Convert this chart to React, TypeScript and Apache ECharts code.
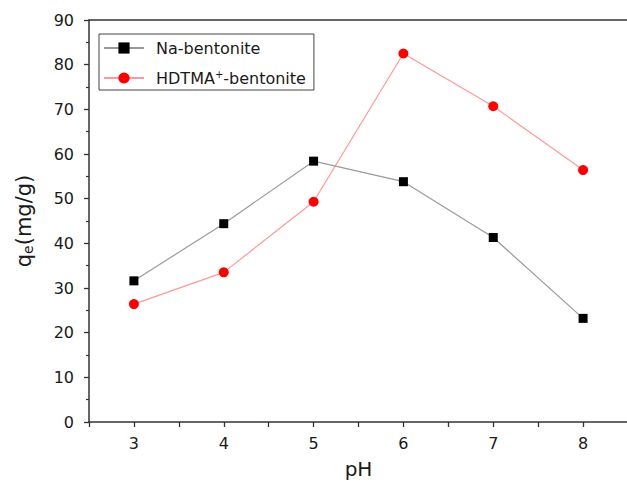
import React, { useEffect, useRef } from "react";
import * as echarts from "echarts";

const phValues = [3, 4, 5, 6, 7, 8];
const naBentonite = [31.6, 44.4, 58.4, 53.8, 41.3, 23.2];
const hdtmaBentonite = [26.4, 33.5, 49.3, 82.5, 70.7, 56.4];
const seriesNames = ["Na-bentonite", "HDTMA+-bentonite"];

export default function App() {
  const ref = useRef<HTMLDivElement>(null);
  useEffect(() => {
    if (!ref.current) return;
    const chart = echarts.init(ref.current, null, { renderer: "svg" });
    const font = "'DejaVu Sans', sans-serif";
    const axisColor = "#333";
    const textColor = "#1a1a1a";
    chart.setOption({
      animation: false,
      backgroundColor: "#fff",
      grid: { left: 89, top: 20, width: 539, height: 402, containLabel: false, outerBoundsMode: "none" },
      legend: {
        data: seriesNames,
        orient: "vertical",
        left: 99,
        top: 34,
        padding: [6, 8, 4, 4],
        itemGap: 13,
        itemWidth: 40,
        itemHeight: 14,
        borderColor: "#444",
        borderWidth: 1,
        borderRadius: 0,
        textStyle: {
          fontFamily: font,
          fontSize: 16,
          color: textColor,
          rich: {
            a: { fontFamily: font, fontSize: 16, color: textColor, padding: [0, 0, 0, 7] },
            b: { fontFamily: font, fontSize: 16, color: textColor },
            s: { fontFamily: font, fontSize: 10, color: textColor, verticalAlign: "top", padding: [0, 0, 8, 0] },
          },
        },
        formatter: (name: string) =>
          name === "HDTMA+-bentonite" ? "{a|HDTMA}{s|+}{b|-bentonite}" : "{a|" + name + "}",
      },
      xAxis: [
        {
          type: "value",
          min: 2.5,
          max: 8.5,
          interval: 0.5,
          position: "bottom",
          name: "pH",
          nameLocation: "middle",
          nameGap: 37,
          nameTextStyle: { fontFamily: font, fontSize: 20, color: textColor },
          axisLine: { show: true, lineStyle: { color: axisColor, width: 1.5 } },
          axisTick: {
            show: true,
            inside: false,
            length: 5,
            lineStyle: { color: axisColor, width: 1.3 },
          },
          axisLabel: {
            fontFamily: font,
            fontSize: 16,
            color: textColor,
            margin: 13,
            formatter: (v: number) => (Number.isInteger(v) && v >= 3 && v <= 8 ? String(v) : ""),
          },
          splitLine: { show: false },
        },
        {
          type: "value",
          min: 2.5,
          max: 8.5,
          position: "top",
          axisLine: { show: true, lineStyle: { color: axisColor, width: 1.5 } },
          axisTick: { show: false },
          axisLabel: { show: false },
          splitLine: { show: false },
        },
      ],
      yAxis: {
        type: "value",
        min: 0,
        max: 90,
        interval: 10,
        name: "{q|q}{e|e}{q|(mg/g)}",
        nameLocation: "middle",
        nameGap: 54,
        nameRotate: 90,
        nameTextStyle: {
          fontFamily: font,
          fontSize: 21,
          color: textColor,
          rich: {
            q: { fontFamily: font, fontSize: 21, color: textColor },
            e: { fontFamily: font, fontSize: 14, color: textColor, verticalAlign: "bottom", padding: [9, 0, 0, 0] },
          },
        },
        axisLine: { show: true, lineStyle: { color: axisColor, width: 1.5 } },
        axisTick: { show: true, inside: false, length: 5, lineStyle: { color: axisColor, width: 1.3 } },
        minorTick: { show: true, splitNumber: 2, length: 3, lineStyle: { color: axisColor, width: 1.2 } },
        axisLabel: { fontFamily: font, fontSize: 16, color: textColor, margin: 15 },
        splitLine: { show: false },
      },
      series: [
        {
          name: seriesNames[0],
          type: "line",
          data: phValues.map((x, i) => [x, naBentonite[i]]),
          symbol: "rect",
          symbolSize: 9,
          itemStyle: { color: "#000" },
          lineStyle: { color: "#9a9a9a", width: 1.2 },
          z: 3,
        },
        {
          name: seriesNames[1],
          type: "line",
          data: phValues.map((x, i) => [x, hdtmaBentonite[i]]),
          symbol: "circle",
          symbolSize: 10,
          itemStyle: { color: "#ff0000" },
          lineStyle: { color: "#ff9898", width: 1.2 },
          z: 2,
        },
      ],
    });
    return () => chart.dispose();
  }, []);
  return <div ref={ref} style={{ width: 627, height: 484, position: "absolute", left: 0, top: 0 }} />;
}
